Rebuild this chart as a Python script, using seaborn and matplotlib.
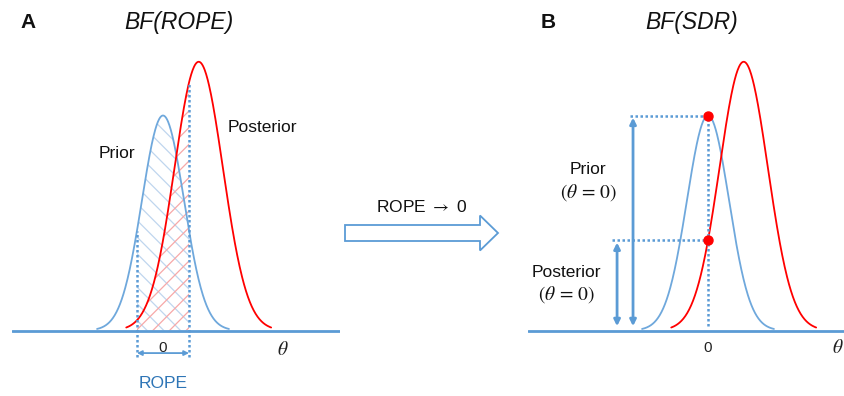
import numpy as np
import matplotlib
matplotlib.use("Agg")
import matplotlib.pyplot as plt
import matplotlib.patches as mpatches
import seaborn as sns

# distribution parameters (theta units, arbitrary height)
prior_mean, prior_sd, prior_peak = 0.0, 1.0, 1.0
post_mean, post_sd, post_peak = 1.7, 1.15, 1.25
prior_halfwidth = 3.14   # curves stop where they meet the axis
post_halfwidth = 3.45
rope = [-1.24, 1.24]

blue = "#5B9BD5"
curve_blue = "#6FA8DC"
red = "#FF0000"

sns.set_theme(style="white")
plt.rcParams["font.family"] = ["Liberation Sans", "DejaVu Sans"]
plt.rcParams["mathtext.fontset"] = "stix"
plt.rcParams["hatch.linewidth"] = 0.9


def density(x, mean, sd, peak):
    return peak * np.exp(-0.5 * ((x - mean) / sd) ** 2)


prior_x = np.linspace(prior_mean - prior_halfwidth, prior_mean + prior_halfwidth, 300)
post_x = np.linspace(post_mean - post_halfwidth, post_mean + post_halfwidth, 300)
prior_y = density(prior_x, prior_mean, prior_sd, prior_peak)
post_y = density(post_x, post_mean, post_sd, post_peak)

W, H = 844, 396
fig = plt.figure(figsize=(W / 100, H / 100), dpi=100)
px = 21.0          # pixels per theta unit
py = 215.0         # pixels per height unit
base = 330.5       # baseline, pixels from top
ylim = (-(H - base) / py, base / py)
dots = (0, (1, 1))


def draw_curves(ax):
    ax.axhline(0, color=blue, lw=2.0, zorder=3)
    sns.lineplot(x=prior_x, y=prior_y, ax=ax, color=curve_blue, lw=1.3, zorder=4)
    sns.lineplot(x=post_x, y=post_y, ax=ax, color=red, lw=1.3, zorder=4)
    ax.set_ylim(*ylim)
    ax.set_axis_off()


# panel A
axA = fig.add_axes([12 / W, 0, (340 - 12) / W, 1])
axA.set_xlim(-151 / px, 177 / px)
draw_curves(axA)
rx = np.linspace(rope[0], rope[1], 100)
axA.fill_between(rx, 0, density(rx, prior_mean, prior_sd, prior_peak),
                 facecolor="none", edgecolor="#BFD6EE", hatch="\\\\", lw=0, zorder=2)
axA.fill_between(rx, 0, density(rx, post_mean, post_sd, post_peak),
                 facecolor="none", edgecolor="#F7A8A8", hatch="//", lw=0, zorder=2)
for edge in rope:
    top = max(density(edge, prior_mean, prior_sd, prior_peak),
              density(edge, post_mean, post_sd, post_peak))
    axA.plot([edge, edge], [-0.125, top], color=blue, lw=1.8, ls=dots, zorder=5)
axA.annotate("", xy=(rope[1], -0.105), xytext=(rope[0], -0.105),
             arrowprops=dict(arrowstyle="<|-|>", color=blue, lw=1.3,
                             mutation_scale=7, shrinkA=0, shrinkB=0))
axA.text(0, -0.08, "0", ha="center", va="center", fontsize=11, color="#222222")
axA.text(0, -0.245, "ROPE", ha="center", va="center", fontsize=12.5, color="#2E75B6")
axA.text(5.71, -0.093, r"$\theta$", ha="center", va="center", fontsize=14, color="#222222")
axA.text(-2.19, 0.823, "Prior", ha="center", va="center", fontsize=12.5, color="#111111")
axA.text(4.71, 0.944, "Posterior", ha="center", va="center", fontsize=12.5, color="#111111")

# panel B
axB = fig.add_axes([528 / W, 0, (W - 528) / W, 1])
axB.set_xlim(-180 / px, 136 / px)
draw_curves(axB)
prior0 = density(0, prior_mean, prior_sd, prior_peak)
post0 = density(0, post_mean, post_sd, post_peak)
axB.plot([0, 0], [0.02, prior0], color=blue, lw=1.8, ls=dots, zorder=5)
axB.plot([-3.71, 0], [prior0, prior0], color=blue, lw=1.8, ls=dots, zorder=5)
axB.plot([-4.57, 0], [post0, post0], color=blue, lw=1.8, ls=dots, zorder=5)
axB.plot([0, 0], [prior0, post0], "o", color=red, ms=6.5, zorder=6)
for xpos, top in [(-3.57, prior0), (-4.33, post0)]:
    axB.annotate("", xy=(xpos, top - 0.01), xytext=(xpos, 0.02),
                 arrowprops=dict(arrowstyle="<|-|>", color=blue, lw=2.0,
                                 mutation_scale=9, shrinkA=0, shrinkB=0))
axB.text(0, -0.08, "0", ha="center", va="center", fontsize=11, color="#222222")
axB.text(6.2, -0.08, r"$\theta$", ha="center", va="center", fontsize=14, color="#222222")
axB.text(-5.71, 0.749, "Prior", ha="center", va="center", fontsize=12.5, color="#111111")
axB.text(-5.71, 0.642, r"$(\theta\,=\,0)$", ha="center", va="center", fontsize=14, color="#111111")
axB.text(-6.76, 0.27, "Posterior", ha="center", va="center", fontsize=12.5, color="#111111")
axB.text(-6.76, 0.167, r"$(\theta\,=\,0)$", ha="center", va="center", fontsize=14, color="#111111")

# overlay for titles and the middle block arrow (pixel coordinates)
ov = fig.add_axes([0, 0, 1, 1], facecolor="none")
ov.set_xlim(0, W)
ov.set_ylim(H, 0)
ov.set_axis_off()
ov.text(28, 22, "A", ha="center", va="center", fontsize=15, fontweight="bold", color="#111111")
ov.text(179, 22, "BF(ROPE)", ha="center", va="center", fontsize=16.5, style="italic", color="#111111")
ov.text(548, 22, "B", ha="center", va="center", fontsize=15, fontweight="bold", color="#111111")
ov.text(692, 22, "BF(SDR)", ha="center", va="center", fontsize=16.5, style="italic", color="#111111")
ov.text(421, 207, r"ROPE $\rightarrow$ 0", ha="center", va="center", fontsize=12.5, color="#111111")
ov.add_patch(mpatches.FancyArrow(345, 233, 153, 0, width=16, head_width=35,
                                 head_length=18, length_includes_head=True,
                                 facecolor="white", edgecolor=blue, lw=1.3))

fig.savefig("out.png", dpi=100)
